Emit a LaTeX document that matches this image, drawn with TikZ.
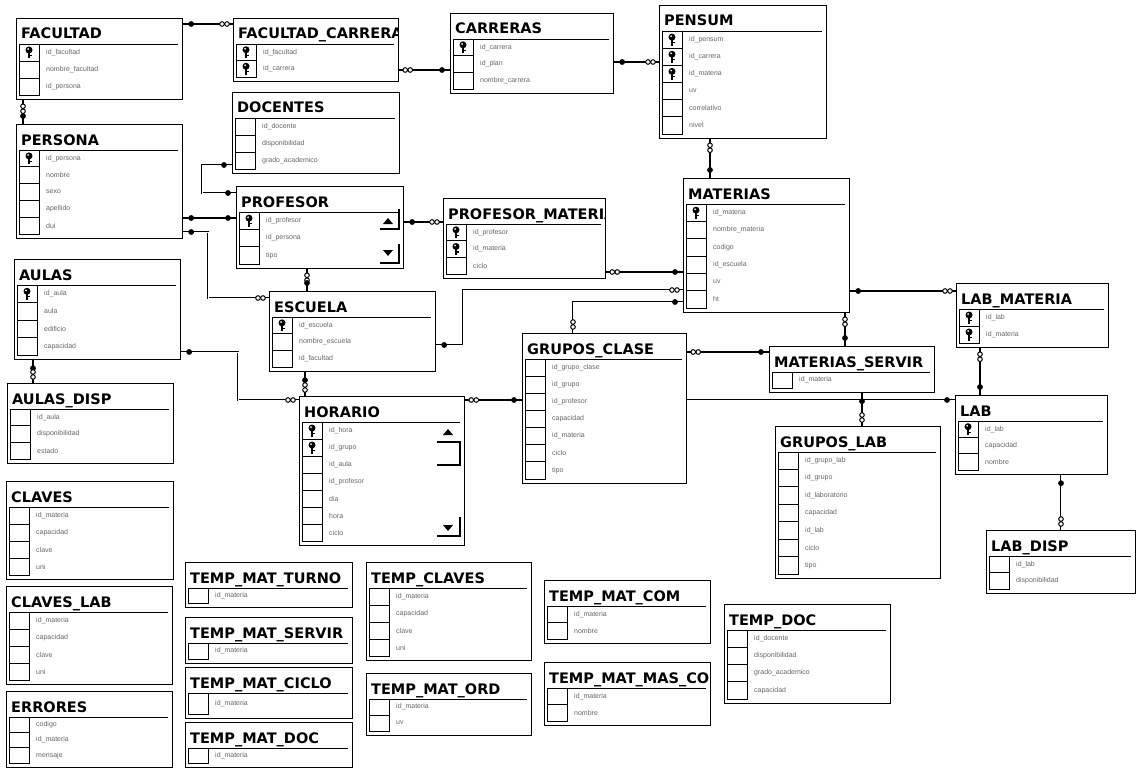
\documentclass[tikz,border=0pt]{standalone}
\usepackage{fontspec}
\setmainfont{Liberation Sans}
\newfontfamily\ttlfont{DejaVu Sans}
\usetikzlibrary{decorations.markings}
\tikzset{
  tblbox/.style={draw, line width=1.2pt, inner sep=0pt, anchor=north west, fill=white},
  ttl/.style={font=\ttlfont\fontsize{14.5}{15}\selectfont\bfseries, inner sep=0pt, anchor=base west},
  fld/.style={font=\fontsize{7}{7}\selectfont, text=black!60, inner sep=0pt, anchor=west},
  cell/.style={draw, line width=0.9pt},
  rel/.style={line width=1.2pt},
  relD/.style={preaction={draw=black, line width=2.8pt}, draw=white, line width=0.8pt},
  kstart/.style={postaction={decorate, decoration={markings,
      mark=at position 8pt with {\fill[black] (0,0) circle (2.9pt);}}}},
  kend/.style={postaction={decorate, decoration={markings,
      mark=at position -8pt with {\fill[black] (0,0) circle (2.9pt);}}}},
  mstart/.style={postaction={decorate, decoration={markings,
      mark=at position 6pt with {\draw[black, line width=1pt, fill=white] (0,0) circle (2.3pt);},
      mark=at position 11pt with {\draw[black, line width=1pt, fill=white] (0,0) circle (2.3pt);}}}},
  mend/.style={postaction={decorate, decoration={markings,
      mark=at position -11pt with {\draw[black, line width=1pt, fill=white] (0,0) circle (2.3pt);},
      mark=at position -6pt with {\draw[black, line width=1pt, fill=white] (0,0) circle (2.3pt);}}}},
}
\newcommand\erKey[2]{%
  \fill (#1,#2-2.5) circle (3.5pt);
  \draw[line width=1.9pt] (#1,#2-2) -- (#1,#2+6);
  \draw[line width=1.1pt] (#1,#2+3) -- (#1+2.8,#2+3);
  \fill[white] (#1-0.9,#2-3.4) circle (1pt);
}
% name, x1, y1, x2, y2, nrows, title, rows
\newcommand\erT[8]{%
  \node[tblbox, minimum width={(#4-#2)*1pt}, minimum height={(#5-#3)*1pt}] (#1) at (#2,#3) {};
  \begin{scope}
    \clip (#2,#3) rectangle (#4-1,#5);
    \node[ttl] at (#2+5,#3+21) {#7};
  \end{scope}
  \draw[line width=0.9pt] (#2+3,#3+26) -- (#4-4,#3+26);
  \pgfmathsetmacro\erRH{(#5-#3-30)/#6}
  \foreach \ty/\fn [count=\i] in {#8} {
    \pgfmathsetmacro\erRT{#3+26+(\i-1)*\erRH}
    \pgfmathsetmacro\erRB{\erRT+\erRH}
    \pgfmathsetmacro\erRC{\erRT+0.5*\erRH}
    \draw[cell] (#2+3,\erRT) rectangle (#2+23,\erRB);
    \node[fld] at (#2+30,\erRC) {\fn};
    \if\ty k\erKey{#2+13}{\erRC}\fi
  }
}
\begin{document}
\begin{tikzpicture}[x=1pt,y=-1pt]
\useasboundingbox (0,0) rectangle (1136,768);
\fill[white] (0,0) rectangle (1136,768);

% ---- tables ----
\erT{facultad}{16}{18}{182}{99}{3}{FACULTAD}{k/id\_facultad, n/nombre\_facultad, n/id\_persona}
\erT{faccar}{233}{18}{398}{81}{2}{FACULTAD\_CARRERA}{k/id\_facultad, k/id\_carrera}
\erT{carreras}{450}{13}{613}{93}{3}{CARRERAS}{k/id\_carrera, n/id\_plan, n/nombre\_carrera}
\erT{pensum}{659}{5}{826}{138}{6}{PENSUM}{k/id\_pensum, k/id\_carrera, k/id\_materia, n/uv, n/correlativo, n/nivel}
\erT{docentes}{232}{92}{399}{173}{3}{DOCENTES}{n/id\_docente, n/disponibilidad, n/grado\_academico}
\erT{persona}{16}{124}{182}{238}{5}{PERSONA}{k/id\_persona, n/nombre, n/sexo, n/apellido, n/dui}
\erT{profesor}{236}{186}{403}{268}{3}{PROFESOR}{k/id\_profesor, n/id\_persona, n/tipo}
\erT{profmat}{443}{198}{605}{278}{3}{PROFESOR\_MATERIA}{k/id\_profesor, k/id\_materia, n/ciclo}
\erT{materias}{683}{178}{849}{312}{6}{MATERIAS}{k/id\_materia, n/nombre\_materia, n/codigo, n/id\_escuela, n/uv, n/ht}
\erT{aulas}{14}{259}{180}{359}{4}{AULAS}{k/id\_aula, n/aula, n/edificio, n/capacidad}
\erT{aulasdisp}{7}{383}{173}{463}{3}{AULAS\_DISP}{n/id\_aula, n/disponibilidad, n/estado}
\erT{escuela}{269}{291}{435}{371}{3}{ESCUELA}{k/id\_escuela, n/nombre\_escuela, n/id\_facultad}
\erT{horario}{299}{396}{464}{545}{7}{HORARIO}{k/id\_hora, k/id\_grupo, n/id\_aula, n/id\_profesor, n/dia, n/hora, n/ciclo}
\erT{claves}{6}{481}{173}{579}{4}{CLAVES}{n/id\_materia, n/capacidad, n/clave, n/uni}
\erT{claveslab}{6}{586}{172}{684}{4}{CLAVES\_LAB}{n/id\_materia, n/capacidad, n/clave, n/uni}
\erT{errores}{6}{691}{172}{767}{3}{ERRORES}{n/codigo, n/id\_materia, n/mensaje}
\erT{tmturno}{185}{562}{352}{607}{1}{TEMP\_MAT\_TURNO}{n/id\_materia}
\erT{tmservir}{185}{617}{352}{663}{1}{TEMP\_MAT\_SERVIR}{n/id\_materia}
\erT{tmciclo}{185}{667}{352}{718}{1}{TEMP\_MAT\_CICLO}{n/id\_materia}
\erT{tmdoc}{185}{722}{352}{767}{1}{TEMP\_MAT\_DOC}{n/id\_materia}
\erT{tclaves}{366}{562}{531}{660}{4}{TEMP\_CLAVES}{n/id\_materia, n/capacidad, n/clave, n/uni}
\erT{tmord}{366}{673}{531}{735}{2}{TEMP\_MAT\_ORD}{n/id\_materia, n/uv}
\erT{tmcom}{544}{580}{710}{643}{2}{TEMP\_MAT\_COM}{n/id\_materia, n/nombre}
\erT{tmmascc}{544}{662}{710}{725}{2}{TEMP\_MAT\_MAS\_COM}{n/id\_materia, n/nombre}
\erT{tempdoc}{724}{604}{890}{703}{4}{TEMP\_DOC}{n/id\_docente, n/disponibilidad, n/grado\_academico, n/capacidad}
\erT{gruposclase}{522}{333}{686}{483}{7}{GRUPOS\_CLASE}{n/id\_grupo\_clase, n/id\_grupo, n/id\_profesor, n/capacidad, n/id\_materia, n/ciclo, n/tipo}
\erT{matservir}{769}{346}{934}{392}{1}{MATERIAS\_SERVIR}{n/id\_materia}
\erT{gruposlab}{775}{426}{940}{578}{7}{GRUPOS\_LAB}{n/id\_grupo\_lab, n/id\_grupo, n/id\_laboratorio, n/capacidad, n/id\_lab, n/ciclo, n/tipo}
\erT{labmateria}{956}{283}{1108}{347}{2}{LAB\_MATERIA}{k/id\_lab, k/id\_materia}
\erT{lab}{955}{395}{1107}{474}{3}{LAB}{k/id\_lab, n/capacidad, n/nombre}
\erT{labdisp}{986}{530}{1135}{593}{2}{LAB\_DISP}{n/id\_lab, n/disponibilidad}

% ---- scroll bars ----
\fill (383,224) -- (393,224) -- (388,218) -- cycle;
\draw[line width=1.3pt] (380,229) -- (399,229) -- (399,209);
\fill (383,250) -- (393,250) -- (388,256) -- cycle;
\draw[line width=1.3pt] (380,263) -- (399,263) -- (399,244);
\fill (443,435) -- (453,435) -- (448,429) -- cycle;
\draw[line width=1.3pt] (437,442) -- (460,442) -- (460,465) -- (437,465);
\fill (443,525) -- (453,525) -- (448,531) -- cycle;
\draw[line width=1.3pt] (437,536) -- (460,536) -- (460,517);

% ---- relationships ----
\draw[rel,kstart,mend] (facultad.east |- 0,24) -- (faccar.west |- 0,24);
\draw[rel,mstart,kend] (faccar.east |- 0,70) -- (carreras.west |- 0,70);
\draw[rel,kstart,mend] (carreras.east |- 0,62) -- (pensum.west |- 0,62);
\draw[rel,mstart,kend] (pensum.south -| 710,0) -- (materias.north -| 710,0);
\draw[rel,mstart,kend] (facultad.south -| 23,0) -- (persona.north -| 23,0);
\draw[rel,kstart,kend] (persona.east |- 0,218) -- (profesor.west |- 0,218);
\draw[relD,kstart,mend] (persona.east |- 0,232) -| (208,298) -- (escuela.west |- 0,298);
\draw[relD,kstart,kend] (docentes.west |- 0,165) -| (202,193) -- (profesor.west |- 0,193);
\draw[rel,kstart,mend] (profesor.east |- 0,222) -- (profmat.west |- 0,222);
\draw[rel,mstart,kend] (profesor.south -| 307,0) -- (escuela.north -| 307,0);
\draw[rel,mstart,kend] (profmat.east |- 0,272) -- (materias.west |- 0,272);
\draw[relD,kstart,mend] (escuela.east |- 0,345) -| (463,290) -- (materias.west |- 0,290);
\draw[relD,mstart,kend] (gruposclase.north -| 573,0) |- (materias.west |- 0,302);
\draw[rel,kstart,mend] (materias.east |- 0,291) -- (labmateria.west |- 0,291);
\draw[rel,mstart,kend] (materias.south -| 845,0) -- (matservir.north -| 845,0);
\draw[rel,mstart,kend] (gruposclase.east |- 0,352) -- (matservir.west |- 0,352);
\draw[relD,kend] (gruposclase.east |- 0,400) -- (lab.west |- 0,400);
\draw[rel,mstart,kend] (horario.east |- 0,400) -- (gruposclase.west |- 0,400);
\draw[rel,kstart,mend] (matservir.south -| 862,0) -- (gruposlab.north -| 862,0);
\draw[relD,kstart,mend] (aulas.east |- 0,352) -| (238,400) -- (horario.west |- 0,400);
\draw[rel,kstart,mend] (escuela.south -| 305,0) -- (horario.north -| 305,0);
\draw[rel,kstart,mend] (aulas.south -| 33,0) -- (aulasdisp.north -| 33,0);
\draw[rel,mstart,kend] (labmateria.south -| 980,0) -- (lab.north -| 980,0);
\draw[relD,kstart,mend] (lab.south -| 1061,0) -- (labdisp.north -| 1061,0);
\end{tikzpicture}
\end{document}
